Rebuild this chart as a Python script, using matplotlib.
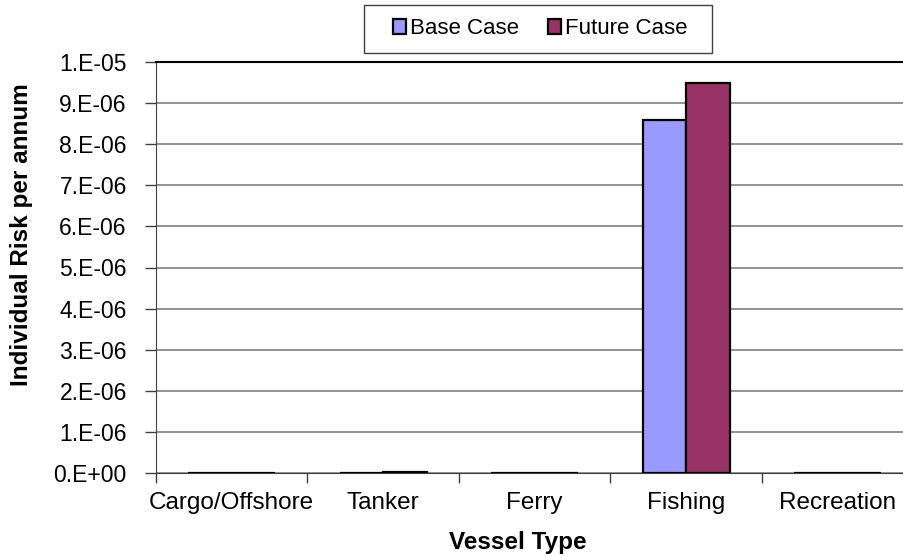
import matplotlib
matplotlib.use("Agg")
import matplotlib.pyplot as plt
import numpy as np
from matplotlib.patches import Patch, Rectangle

plt.rcParams['font.family'] = ['Liberation Sans', 'DejaVu Sans']

categories = ["Cargo/Offshore", "Tanker", "Ferry", "Fishing", "Recreation"]
base_case = [1e-9, 5e-9, 1e-9, 8.6e-6, 5e-9]
future_case = [1e-9, 2.5e-8, 1e-9, 9.48e-6, 5e-9]
yticks = [i * 1e-6 for i in range(11)]
ytick_labels = ["0.E+00", "1.E-06", "2.E-06", "3.E-06", "4.E-06", "5.E-06",
                "6.E-06", "7.E-06", "8.E-06", "9.E-06", "1.E-05"]

fig = plt.figure(figsize=(9.04, 5.57), dpi=100)
W, H = 904, 557
left, right, top, bottom = 156, 913.5, 62, 473
ax = fig.add_axes([left / W, 1 - bottom / H, (right - left) / W, (bottom - top) / H])

x = np.arange(len(categories))
bw = 1 / 3.5
ax.bar(x - bw / 2, base_case, bw, color="#9999ff", edgecolor="black", linewidth=1.6, zorder=3, label="Base Case")
ax.bar(x + bw / 2, future_case, bw, color="#993366", edgecolor="black", linewidth=1.6, zorder=3, label="Future Case")

ax.set_xlim(-0.5, len(categories) - 0.5)
ax.set_ylim(0, 1e-5)
ax.set_yticks(yticks)
ax.set_yticklabels(ytick_labels)
ax.yaxis.grid(True, color="#808080", linewidth=1.2, zorder=0)
ax.set_axisbelow(True)

ax.set_xticks(x)
ax.set_xticklabels(categories)
ax.set_xticks(np.arange(-0.5, len(categories)), minor=True)
ax.tick_params(axis='x', which='major', length=0, labelsize=17.5, pad=14)
ax.tick_params(axis='x', which='minor', length=7, width=1, color="#404040", direction='out')
ax.tick_params(axis='y', length=8, width=1, color="#404040", labelsize=16.5, pad=13)

ax.spines["right"].set_visible(False)
ax.spines["top"].set_color("black")
ax.spines["top"].set_linewidth(1.5)
ax.spines["left"].set_color("#404040")
ax.spines["bottom"].set_color("#404040")

fig.text(22 / W, 1 - 235 / H, "Individual Risk per annum", rotation=90, ha="center", va="center",
         fontsize=17.5, fontweight="bold")
fig.text(518 / W, 1 - 542 / H, "Vessel Type", ha="center", va="center",
         fontsize=17.5, fontweight="bold")

handles = [Patch(facecolor="#9999ff", edgecolor="black", linewidth=1.6, label="Base Case"),
           Patch(facecolor="#993366", edgecolor="black", linewidth=1.6, label="Future Case")]
leg = fig.legend(handles=handles, loc="center", bbox_to_anchor=(540 / W, 1 - 29 / H),
                 ncol=2, fontsize=16, frameon=False, handlelength=0.62, handleheight=0.62,
                 handletextpad=0.15, columnspacing=1.3, borderpad=0.0)
fig.patches.append(Rectangle((364 / W, 1 - 53 / H), (712 - 364) / W, 48 / H, transform=fig.transFigure,
                             facecolor="white", edgecolor="#404040", linewidth=1.0, zorder=0))

fig.savefig("out.png", dpi=100)
